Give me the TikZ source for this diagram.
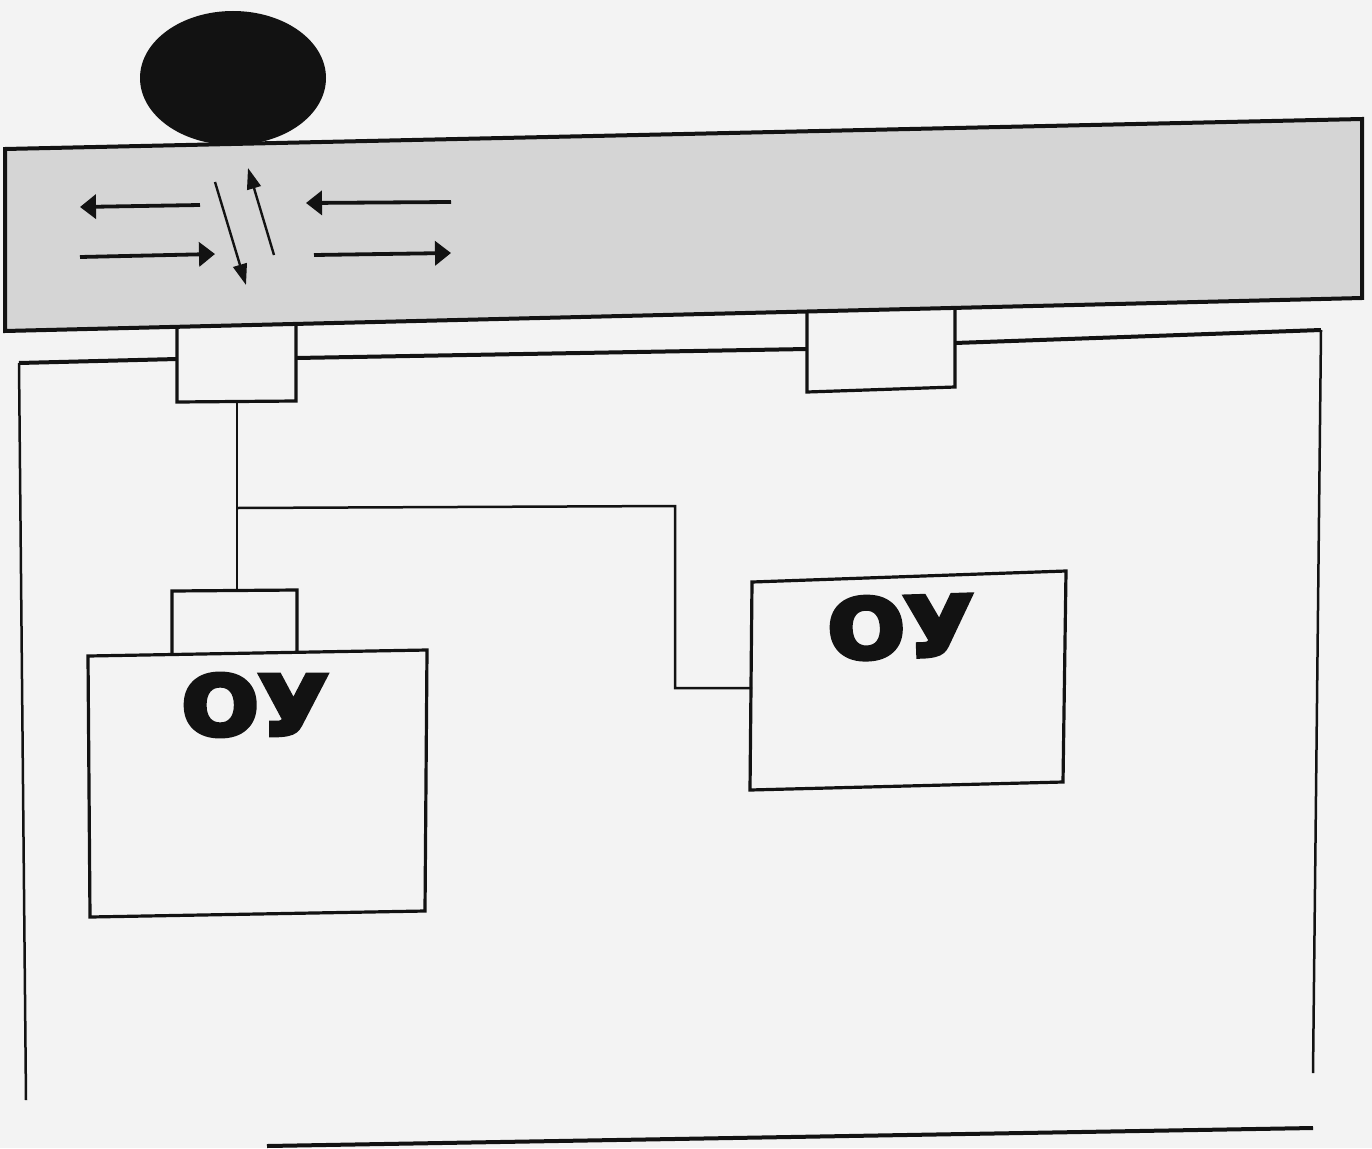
\documentclass[tikz,border=0pt]{standalone}
\usepackage{fontspec}
\setmainfont{DejaVu Sans}
\newfontfamily\oufont[FakeBold=6]{DejaVu Sans Bold}
\usetikzlibrary{arrows.meta,shapes.geometric}
\definecolor{paper}{RGB}{243,243,243}
\definecolor{road}{RGB}{213,213,213}
\definecolor{ink}{RGB}{18,18,18}
\tikzset{
  frameline/.style={draw=ink, line width=4pt, line join=miter},
  boxline/.style={draw=ink, line width=3.2pt, line join=miter},
  sideline/.style={draw=ink, line width=2.5pt},
  roadarrow/.style={draw=ink, line width=3.8pt, -{Triangle[length=16pt,width=24pt]}},
  diagarrow/.style={draw=ink, line width=2.4pt, -{Triangle[length=21pt,width=14pt]}},
  oulabel/.style={font=\oufont\fontsize{82}{82}\selectfont, inner sep=0pt, text=ink, xscale=1.1},
  sign/.style={ellipse, fill=ink, draw=none, minimum width=186pt, minimum height=134pt, inner sep=0pt}
}
\begin{document}
\begin{tikzpicture}[x=1pt,y=-1pt]
\fill[paper] (0,0) rectangle (1372,1148);
\useasboundingbox (0,0) rectangle (1372,1148);

% road band
\coordinate (b1) at (5,149);
\coordinate (b2) at (1362,119);
\coordinate (b3) at (1362,298);
\coordinate (b4) at (5,331);
\filldraw[fill=road, frameline] (b1) -- (b2) -- (b3) -- (b4) -- cycle;

% black sign
\node[sign] (signal) at (233,78) {};

% traffic arrows on the road
\coordinate (a1s) at (200,205); \coordinate (a1e) at (80,207);
\coordinate (a2s) at (80,257);  \coordinate (a2e) at (215,254);
\coordinate (d1s) at (215,182); \coordinate (d1e) at (246,285);
\coordinate (d2s) at (274,255); \coordinate (d2e) at (248,168);
\coordinate (a3s) at (451,202); \coordinate (a3e) at (306,203);
\coordinate (a4s) at (314,255); \coordinate (a4e) at (451,253);
\draw[roadarrow] (a1s) -- (a1e);
\draw[roadarrow] (a2s) -- (a2e);
\draw[diagarrow] (d1s) -- (d1e);
\draw[diagarrow] (d2s) -- (d2e);
\draw[roadarrow] (a3s) -- (a3e);
\draw[roadarrow] (a4s) -- (a4e);

% small boxes under the road
\coordinate (p1a) at (177,327); \coordinate (p1b) at (296,324);
\coordinate (p1c) at (296,401); \coordinate (p1d) at (177,402);
\draw[boxline] (p1a) -- (p1d) -- (p1c) -- (p1b);
\coordinate (p2a) at (807,312); \coordinate (p2b) at (955,309);
\coordinate (p2c) at (955,387); \coordinate (p2d) at (807,392);
\draw[boxline] (p2a) -- (p2d) -- (p2c) -- (p2b);

% outer frame
\coordinate (fl) at (19,363);
\coordinate (fr) at (1321,330);
\coordinate (fl2) at (177,359);
\coordinate (fm1) at (296,358);
\coordinate (fm2) at (807,349);
\coordinate (fr2) at (955,343);
\draw[frameline] (fl) -- (fl2);
\draw[frameline] (fm1) -- (fm2);
\draw[frameline] (fr2) -- (fr);
\coordinate (flb) at (26,1100);
\coordinate (frb) at (1313,1073);
\draw[sideline] (fl) -- (flb);
\draw[sideline] (fr) -- (frb);
\coordinate (bl) at (267,1146);
\coordinate (br) at (1313,1128);
\draw[frameline] (bl) -- (br);

% left branch
\coordinate (v1top) at (237,401);
\coordinate (v1bot) at (237,591);
\draw[sideline] (v1top) -- (v1bot);
\coordinate (p3a) at (172,591); \coordinate (p3b) at (297,590);
\coordinate (p3c) at (297,652); \coordinate (p3d) at (172,654);
\draw[boxline] (p3d) -- (p3a) -- (p3b) -- (p3c);

% first OU box
\coordinate (o1a) at (88,656); \coordinate (o1b) at (427,650);
\coordinate (o1c) at (425,911); \coordinate (o1d) at (90,917);
\draw[boxline] (o1a) -- (o1b) -- (o1c) -- (o1d) -- cycle;
\node[oulabel] (t1) at (255,705) {ОУ};

% connector to second OU box
\coordinate (j1) at (237,508);
\coordinate (j2) at (675,506);
\coordinate (j3) at (675,688);
\coordinate (j4) at (752,688);
\draw[sideline] (j1) -- (j2) -- (j3) -- (j4);

% second OU box
\coordinate (o2a) at (752,582); \coordinate (o2b) at (1066,571);
\coordinate (o2c) at (1063,782); \coordinate (o2d) at (750,790);
\draw[boxline] (o2a) -- (o2b) -- (o2c) -- (o2d) -- cycle;
\node[oulabel, rotate=2] (t2) at (901,627) {ОУ};
\end{tikzpicture}
\end{document}
